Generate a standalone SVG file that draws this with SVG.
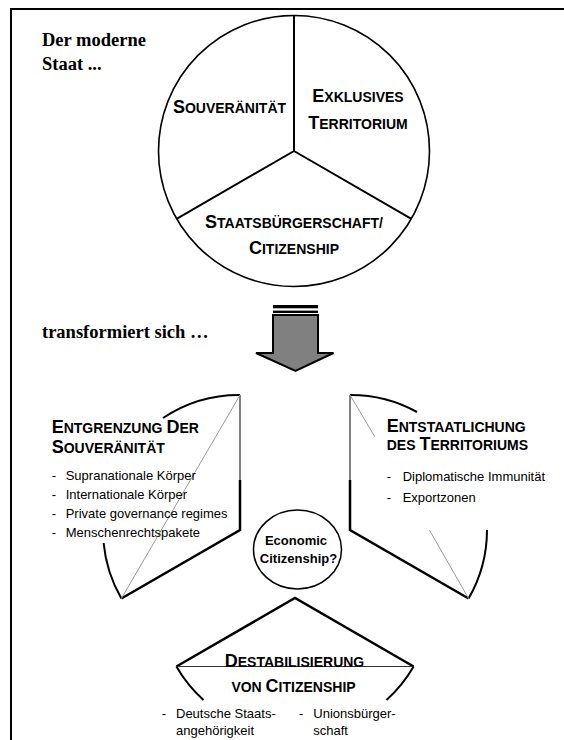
<svg xmlns="http://www.w3.org/2000/svg" width="564" height="740" viewBox="0 0 564 740">
<style>
.t{font-family:"Liberation Serif","Times New Roman",serif;font-weight:bold;font-size:18.5px;fill:#000}
.h{font-family:"Liberation Sans",Arial,sans-serif;font-weight:bold;fill:#000}
.b{font-size:18px}
.s{font-size:14px}
.r{font-family:"Liberation Sans",Arial,sans-serif;font-size:13px;fill:#000}
.ln{fill:none;stroke:#000;stroke-width:2}
.thk{fill:none;stroke:#000;stroke-width:2.5}
.thin{fill:none;stroke:#000;stroke-width:1}
.chord{fill:none;stroke:#999;stroke-width:1}
</style>
<path d="M11,740 V9 H564" fill="none" stroke="#000" stroke-width="2"/>
<g id="title">
<text class="t" x="42" y="46">Der moderne</text>
<text class="t" x="42" y="70">Staat ...</text>
</g>
<g id="staat">
<circle cx="294" cy="151" r="135.5" fill="none" stroke="#000" stroke-width="1.6"/>
<path class="ln" d="M294,15.5 V151 L176.6,218.8 M294,151 L411.4,218.8"/>
<text class="h b" x="229.5" y="113" text-anchor="middle">S<tspan class="s">OUVERÄNITÄT</tspan></text>
<text class="h b" x="358" y="101.5" text-anchor="middle">E<tspan class="s">XKLUSIVES</tspan></text>
<text class="h b" x="358" y="129" text-anchor="middle">T<tspan class="s">ERRITORIUM</tspan></text>
<text class="h b" x="294" y="228" text-anchor="middle">S<tspan class="s">TAATSBÜRGERSCHAFT/</tspan></text>
<text class="h b" x="294" y="254" text-anchor="middle">C<tspan class="s">ITIZENSHIP</tspan></text>
</g>
<g id="transform">
<text class="t" x="42" y="338">transformiert sich …</text>
<rect x="273" y="305" width="45" height="3.3" fill="#000"/>
<rect x="273" y="310.6" width="45" height="2.4" fill="#000"/>
<path d="M273,315 H318 V353 H333.5 L295.5,371 L256,353 H273 Z" fill="#808080" stroke="#000" stroke-width="2" stroke-linejoin="miter"/>
</g>
<g id="entgrenzung">
<path class="ln" d="M240,395 A137,137 0 0,0 163,418"/>
<path class="ln" d="M103.6,543 A137,137 0 0,0 121.4,598.5"/>
<path class="thin" d="M240,395 V480"/>
<path class="thk" d="M240,480 V530 L121.4,598.5"/>
<path class="chord" d="M240,395 L121.4,598.5"/>
<text class="h b" x="51.7" y="433.3">E<tspan class="s">NTGRENZUNG </tspan>D<tspan class="s">ER</tspan></text>
<text class="h b" x="51.7" y="453.3">S<tspan class="s">OUVERÄNITÄT</tspan></text>
<text class="r" x="51.7" y="480">-</text><text class="r" x="65.7" y="480">Supranationale Körper</text>
<text class="r" x="51.7" y="499">-</text><text class="r" x="65.7" y="499">Internationale Körper</text>
<text class="r" x="51.7" y="518">-</text><text class="r" x="65.7" y="518">Private governance regimes</text>
<text class="r" x="51.7" y="537">-</text><text class="r" x="65.7" y="537">Menschenrechtspakete</text>
</g>
<g id="entstaatlichung">
<path class="ln" d="M350,395 A137,137 0 0,1 417,412"/>
<path class="ln" d="M487,530 A137,137 0 0,1 468.6,598.5"/>
<path class="thin" d="M350,395 V480"/>
<path class="thk" d="M350,480 V530 L468.6,598.5"/>
<path class="chord" d="M350,395 L375,437 M429.4,530 L468.6,598.5"/>
<text class="h b" x="386.7" y="431.7">E<tspan class="s">NTSTAATLICHUNG</tspan></text>
<text class="h b" x="386.7" y="450"><tspan class="s">DES </tspan>T<tspan class="s">ERRITORIUMS</tspan></text>
<text class="r" x="386.7" y="481">-</text><text class="r" x="402.7" y="481">Diplomatische Immunität</text>
<text class="r" x="386.7" y="501.7">-</text><text class="r" x="402.7" y="501.7">Exportzonen</text>
</g>
<g id="economic">
<ellipse cx="297.5" cy="549.5" rx="44" ry="39.5" fill="none" stroke="#000" stroke-width="1.5"/>
<text class="h" font-size="13" x="296" y="545" text-anchor="middle">Economic</text>
<text class="h" font-size="13" x="298.5" y="563.3" text-anchor="middle">Citizenship?</text>
</g>
<g id="destabilisierung">
<path class="thk" d="M176.4,666.5 L295,598 L413.6,666.5"/>
<path fill="none" stroke="#333" stroke-width="1" d="M176.4,666.5 H413.6"/>
<path class="ln" d="M176.4,666.5 A137,137 0 0,0 203.5,700 M413.6,666.5 A137,137 0 0,1 386.5,700"/>
<text class="h b" x="294.5" y="666.7" text-anchor="middle">D<tspan class="s">ESTABILISIERUNG</tspan></text>
<text class="h b" x="293.5" y="691.7" text-anchor="middle"><tspan class="s">VON </tspan>C<tspan class="s">ITIZENSHIP</tspan></text>
<text class="r" font-size="13.5" x="161.7" y="718.3">-</text><text class="r" font-size="13.5" x="176" y="718.3">Deutsche Staats-</text>
<text class="r" font-size="13.5" x="176" y="735">angehörigkeit</text>
<text class="r" font-size="13.5" x="299" y="718.3">-</text><text class="r" font-size="13.5" x="313.3" y="718.3">Unionsbürger-</text>
<text class="r" font-size="13.5" x="313.3" y="735">schaft</text>
</g>
</svg>
